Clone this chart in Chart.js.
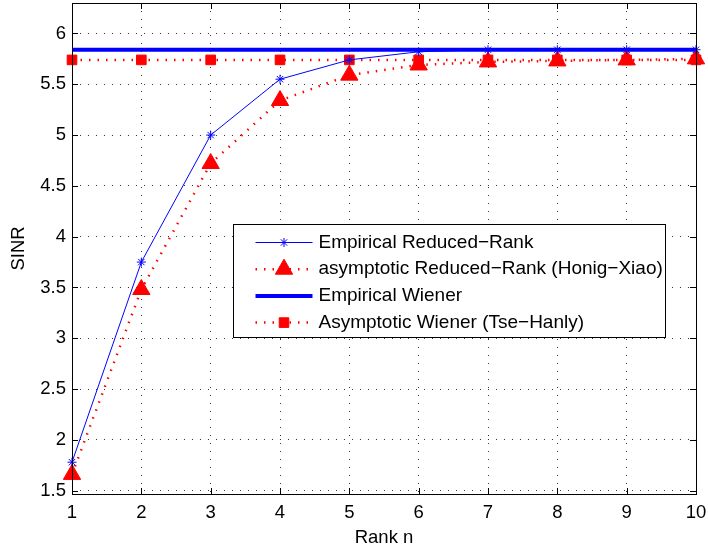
<!DOCTYPE html>
<html>
<head>
<meta charset="utf-8">
<script src="https://cdn.jsdelivr.net/npm/chart.js@4/dist/chart.umd.min.js"></script>
<style>
  html, body { margin: 0; padding: 0; background: #fff; }
  #wrap { width: 708px; height: 549px; }
</style>
</head>
<body>
<div id="wrap"><canvas id="myChart" width="708" height="549"></canvas></div>
<script>
// data
var rankN = [1, 2, 3, 4, 5, 6, 7, 8, 9, 10];
var empReducedRank = [1.78, 3.75, 5.0, 5.55, 5.74, 5.82, 5.84, 5.84, 5.84, 5.84];
var asymReducedRank = [1.66, 3.48, 4.72, 5.34, 5.59, 5.69, 5.72, 5.73, 5.74, 5.75];
var empWiener = [5.84, 5.84, 5.84, 5.84, 5.84, 5.84, 5.84, 5.84, 5.84, 5.84];
var asymWiener = [5.74, 5.74, 5.74, 5.74, 5.74, 5.74, 5.74, 5.74, 5.74, 5.74];
var yTickValues = [1.5, 2, 2.5, 3, 3.5, 4, 4.5, 5, 5.5, 6];
var seriesNames = [
    'Empirical Reduced\u2212Rank',
    'asymptotic Reduced\u2212Rank (Honig\u2212Xiao)',
    'Empirical Wiener',
    'Asymptotic Wiener (Tse\u2212Hanly)'
];

var FONT = "'Liberation Sans', Arial, Helvetica, sans-serif";
var BLUE = 'rgb(0,0,255)';
var RED = 'rgb(255,0,0)';
var DOTS = [1.5, 7];

var ctx = document.getElementById('myChart').getContext('2d');

function px(v) { return Math.round(v) + 0.5; }

function drawMarker(c, style, r, x, y, color) {
    if (Chart.helpers && Chart.helpers.drawPoint) {
        c.fillStyle = color;
        c.strokeStyle = color;
        c.lineWidth = 1;
        c.setLineDash([]);
        Chart.helpers.drawPoint(c, {pointStyle: style, radius: r, rotation: 0, borderWidth: 1}, x, y);
    }
}

// box, inward ticks and the legend, MATLAB style
var matlabAxes = {
    id: 'matlabAxes',
    afterDatasetsDraw: function (chart) {
        var c = chart.ctx;
        var a = chart.chartArea;
        var xs = chart.scales.x, ys = chart.scales.y;
        c.save();
        c.strokeStyle = '#000';
        c.lineWidth = 1;
        c.setLineDash([]);
        c.beginPath();
        yTickValues.forEach(function (v) {
            var y = px(ys.getPixelForValue(v));
            c.moveTo(a.left, y); c.lineTo(a.left + 6, y);
            c.moveTo(a.right, y); c.lineTo(a.right - 6, y);
        });
        rankN.forEach(function (v, i) {
            var x = px(xs.getPixelForValue(i));
            c.moveTo(x, a.bottom); c.lineTo(x, a.bottom - 6);
            c.moveTo(x, a.top); c.lineTo(x, a.top + 6);
        });
        c.stroke();
        c.strokeRect(px(a.left), px(a.top), Math.round(a.right - a.left), Math.round(a.bottom - a.top));

        // legend
        var L = px(a.left + 161), T = px(a.top + 221), W = 432, H = 113;
        c.fillStyle = '#fff';
        c.fillRect(L, T, W, H);
        c.strokeStyle = '#000';
        c.strokeRect(L, T, W, H);
        var ds = chart.data.datasets;
        for (var i = 0; i < ds.length; i++) {
            var y = T + 18 + i * 26.7;
            c.strokeStyle = ds[i].borderColor;
            c.lineWidth = ds[i].borderWidth;
            c.setLineDash(ds[i].borderDash || []);
            c.beginPath();
            c.moveTo(L + 22, y);
            c.lineTo(L + 79, y);
            c.stroke();
            if (ds[i].pointRadius > 0) {
                drawMarker(c, ds[i].pointStyle, ds[i].pointRadius, L + 50.5, y, ds[i].borderColor);
            }
            c.setLineDash([]);
            c.fillStyle = '#000';
            c.font = '19px ' + FONT;
            c.textBaseline = 'middle';
            c.textAlign = 'left';
            c.fillText(ds[i].label, L + 85, y);
        }
        c.restore();
    }
};

var tickFont = { family: FONT, size: 18.5 };

var myChart = new Chart(ctx, {
    type: 'line',
    data: {
        labels: rankN,
        datasets: [
            {
                label: seriesNames[0],
                data: empReducedRank,
                borderColor: BLUE,
                backgroundColor: BLUE,
                borderWidth: 1,
                pointStyle: 'star',
                pointRadius: 4.5,
                pointBorderWidth: 1,
                clip: false,
                order: 1
            },
            {
                label: seriesNames[1],
                data: asymReducedRank,
                borderColor: RED,
                backgroundColor: RED,
                borderWidth: 2.5,
                borderDash: DOTS,
                pointStyle: 'triangle',
                pointRadius: 10,
                pointBorderWidth: 1,
                clip: false,
                order: 2
            },
            {
                label: seriesNames[2],
                data: empWiener,
                borderColor: BLUE,
                backgroundColor: BLUE,
                borderWidth: 4,
                pointRadius: 0,
                clip: false,
                order: 3
            },
            {
                label: seriesNames[3],
                data: asymWiener,
                borderColor: RED,
                backgroundColor: RED,
                borderWidth: 2.5,
                borderDash: DOTS,
                pointStyle: 'rect',
                pointRadius: 6.8,
                pointBorderWidth: 1,
                clip: false,
                order: 4
            }
        ]
    },
    options: {
        responsive: false,
        animation: false,
        devicePixelRatio: 1,
        layout: { autoPadding: false, padding: { left: 0, top: 3, right: 12, bottom: 0 } },
        elements: { line: { tension: 0, fill: false } },
        plugins: {
            legend: { display: false },
            tooltip: { enabled: false }
        },
        scales: {
            x: {
                type: 'category',
                offset: false,
                afterFit: function (s) {
                    s.height = 55;
                    s.paddingLeft = 0; s.paddingRight = 0;
                },
                grid: { color: '#333', lineWidth: 1, drawTicks: false },
                border: { display: false, dash: [1, 7] },
                ticks: { color: '#000', font: tickFont, padding: 8, maxRotation: 0 },
                title: { display: true, text: 'Rank n', color: '#000', font: tickFont, padding: { top: 0, bottom: 0 } }
            },
            y: {
                min: 1.467,
                max: 6.3,
                afterFit: function (s) {
                    s.width = 72;
                    s.paddingTop = 0; s.paddingBottom = 0;
                },
                afterBuildTicks: function (s) {
                    s.ticks = yTickValues.map(function (v) { return { value: v }; });
                },
                grid: { color: '#333', lineWidth: 1, drawTicks: false },
                border: { display: false, dash: [1, 7] },
                ticks: {
                    color: '#000', font: tickFont, padding: 6,
                    callback: function (v) { return String(v); }
                },
                title: { display: true, text: 'SINR', color: '#000', font: tickFont, padding: { top: 7.5, bottom: 0 } }
            }
        }
    },
    plugins: [matlabAxes]
});
</script>
</body>
</html>
